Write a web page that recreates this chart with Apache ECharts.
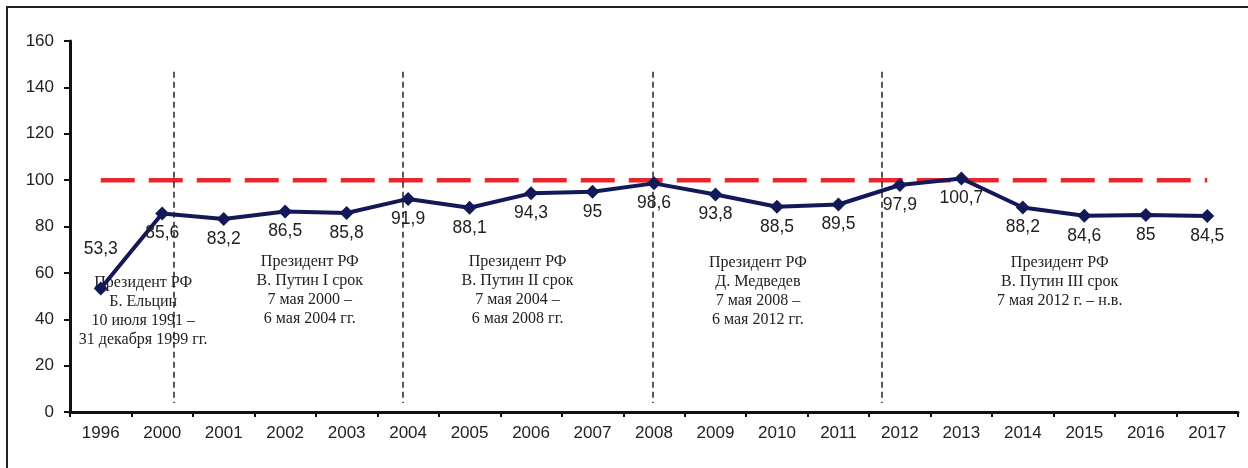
<!DOCTYPE html>
<html>
<head>
<meta charset="utf-8">
<script src="https://cdn.jsdelivr.net/npm/echarts@6/dist/echarts.min.js"></script>
<style>
html,body{margin:0;padding:0;background:#fff;}
#chart{width:1248px;height:468px;}
</style>
</head>
<body>
<div id="chart"></div>
<script>
var years = ['1996','2000','2001','2002','2003','2004','2005','2006','2007','2008','2009','2010','2011','2012','2013','2014','2015','2016','2017'];
var values = [53.3,85.6,83.2,86.5,85.8,91.9,88.1,94.3,95,98.6,93.8,88.5,89.5,97.9,100.7,88.2,84.6,85,84.5];
var threshold = 100;
var yTicks = [0,20,40,60,80,100,120,140,160];
// term boundaries on a 0..19 scale spanning the category axis
var termBoundaries = [1.69, 5.41, 9.48, 13.2];
var termTexts = [
  'Президент РФ\nБ. Ельцин\n10 июля 1991 –\n31 декабря 1999 гг.',
  'Президент РФ\nВ. Путин I срок\n7 мая 2000 –\n6 мая 2004 гг.',
  'Президент РФ\nВ. Путин II срок\n7 мая 2004 –\n6 мая 2008 гг.',
  'Президент РФ\nД. Медведев\n7 мая 2008 –\n6 мая 2012 гг.',
  'Президент РФ\nВ. Путин III срок\n7 мая 2012 г. – н.в.'
];
var termTextX = [1.19, 3.90, 7.28, 11.19, 16.1];
var termTextY = [43.4, 52.4, 52.4, 52.0, 56.1];

var chart = echarts.init(document.getElementById('chart'));
var fmt = function(v){ return String(v).replace('.', ','); };

var lineData = values.map(function(v, i){
  if (i === 0) {
    return {value: v, label: {position: 'top', distance: 23}};
  }
  return v;
});

var boundaryLines = termBoundaries.map(function(x){
  return [{coord:[x,146.7]},{coord:[x,3.9]}];
});

var textData = termTexts.map(function(t, i){
  return {value:[termTextX[i], termTextY[i]], name: t};
});

chart.setOption({
  animation: false,
  backgroundColor: '#fff',
  grid: {left: 70, right: 10, top: 41, bottom: 56},
  xAxis: [{
    type: 'category',
    data: years,
    boundaryGap: true,
    axisLine: {lineStyle: {color: '#111', width: 3}},
    axisTick: {show: true, interval: 0, length: 5, lineStyle: {color: '#111', width: 2}},
    axisLabel: {interval: 0, fontFamily: 'Liberation Sans, Arial', fontSize: 17, color: '#222', margin: 13},
    splitLine: {show: false}
  },{
    type: 'value', min: 0, max: 19, show: false
  }],
  yAxis: {
    type: 'value', min: 0, max: 160, interval: 20,
    axisLine: {show: true, lineStyle: {color: '#111', width: 3}},
    axisTick: {show: true, length: 6, lineStyle: {color: '#111', width: 2}},
    axisLabel: {fontFamily: 'Liberation Sans, Arial', fontSize: 17, color: '#222', margin: 16,
      formatter: function(v){ return yTicks.indexOf(v) >= 0 ? String(v) : ''; }},
    splitLine: {show: false}
  },
  graphic: [{
    type: 'rect', shape: {x: 7, y: 7, width: 1300, height: 520},
    style: {fill: 'none', stroke: '#222', lineWidth: 2}, silent: true, z: 0
  }],
  series: [{
    type: 'line',
    data: years.map(function(){ return threshold; }),
    symbol: 'none',
    lineStyle: {color: '#E8262E', width: 4.5, type: [34, 14], cap: 'butt'},
    z: 2, silent: true
  },{
    type: 'line',
    data: lineData,
    symbol: 'diamond', symbolSize: 14,
    itemStyle: {color: '#121858'},
    lineStyle: {color: '#121858', width: 4},
    label: {show: true, position: 'bottom', distance: 4, fontFamily: 'Liberation Sans, Arial', fontSize: 17.5, color: '#222',
      formatter: function(p){ return fmt(p.value); }},
    z: 5
  },{
    type: 'scatter',
    xAxisIndex: 1,
    data: textData,
    symbolSize: 0,
    itemStyle: {opacity: 1},
    label: {show: true, position: 'inside', formatter: function(p){ return p.name; }, opacity: 1,
      fontFamily: 'Liberation Serif, Times New Roman, serif', fontSize: 16, lineHeight: 19, color: '#222', align: 'center'},
    markLine: {
      symbol: ['none','none'], silent: true, label: {show: false},
      lineStyle: {color: '#222', width: 1.5, type: [6, 4]},
      data: boundaryLines
    },
    z: 3
  }]
});
</script>
</body>
</html>
